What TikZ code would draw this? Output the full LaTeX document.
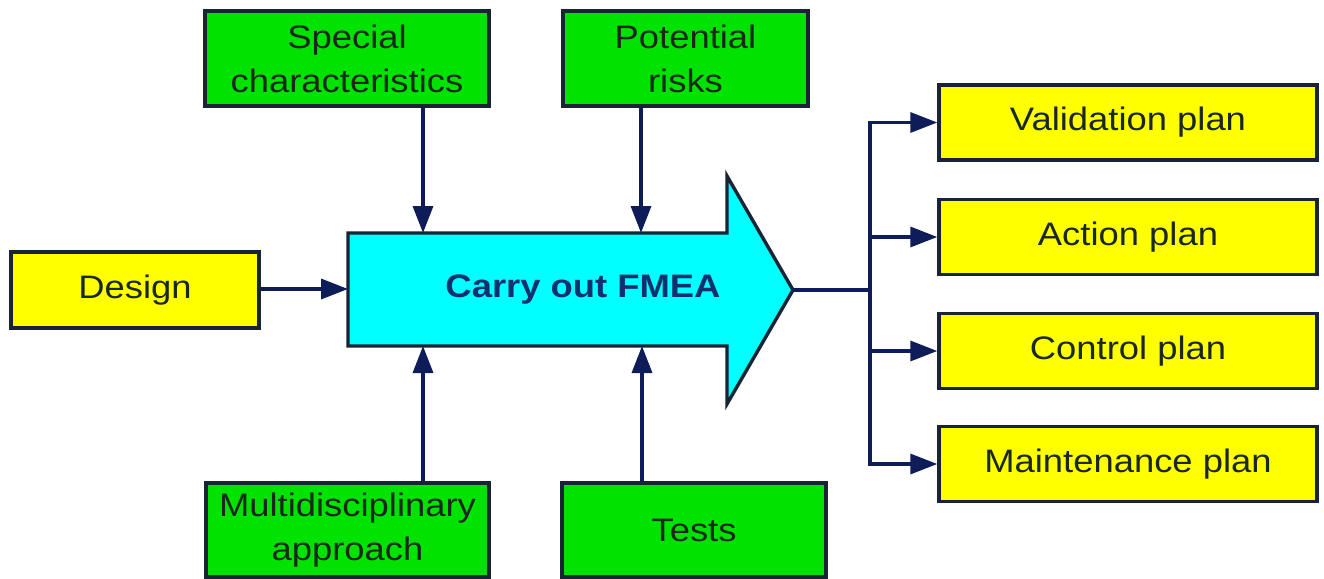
\documentclass[tikz,border=0pt]{standalone}
\usepackage{fontspec}
\setmainfont[FakeStretch=1.12]{Liberation Sans}
\usetikzlibrary{arrows.meta}
\definecolor{boxgreen}{RGB}{0,226,0}
\definecolor{boxyellow}{RGB}{255,255,0}
\definecolor{boxcyan}{RGB}{0,255,255}
\definecolor{edgedark}{RGB}{24,36,52}
\definecolor{linknavy}{RGB}{14,28,90}
\definecolor{textdark}{RGB}{26,40,28}
\definecolor{titlenavy}{RGB}{16,48,110}
\tikzset{
  boxbase/.style={draw=edgedark, line width=3.4pt, rectangle, inner sep=0pt,
    align=center, text=textdark, font=\fontsize{32.5}{44}\selectfont},
  greenbox/.style={boxbase, fill=boxgreen},
  yellowbox/.style={boxbase, fill=boxyellow},
  link/.style={draw=linknavy, line width=3.4pt,
    -{Triangle[length=27pt, width=20pt]}},
  busline/.style={draw=linknavy, line width=3.4pt},
  mainarrow/.style={draw=edgedark, line width=3.4pt, fill=boxcyan, line join=miter}
}
\begin{document}
\begin{tikzpicture}[x=1pt, y=-1pt]
\useasboundingbox (0,0) rectangle (1324,578);

% input boxes
\node[greenbox, minimum width=284pt, minimum height=95pt] (spec) at (347,58.5) {Special\\characteristics};
\node[greenbox, minimum width=245pt, minimum height=95pt] (risk) at (685.5,58.5) {Potential\\risks};
\node[yellowbox, minimum width=248pt, minimum height=76pt] (design) at (135,290) {Design};
\node[greenbox, minimum width=283pt, minimum height=94pt] (multi) at (347.5,530) {Multidisciplinary\\approach};
\node[greenbox, minimum width=264pt, minimum height=94pt] (tests) at (694,530) {Tests};

% the large block arrow
\coordinate (atl) at (348,233);
\coordinate (abl) at (348,346);
\coordinate (tip) at (793,290);
\path[mainarrow] (atl) -- (727,233) -- (727,176) -- (tip) -- (727,404) -- (727,346) -- (abl) -- cycle;
\node[font=\bfseries\fontsize{32.5}{38}\selectfont, text=titlenavy] (fmea) at (583,290) {Carry out FMEA};

% entry points on the block arrow
\coordinate (inspec) at (423,233);
\coordinate (inrisk) at (641,233);
\coordinate (inmulti) at (423,346);
\coordinate (intests) at (642,346);
\coordinate (indesign) at (348,289);

% output boxes
\node[yellowbox, minimum width=378pt, minimum height=75pt] (valid) at (1128,122.5) {Validation plan};
\node[yellowbox, minimum width=378pt, minimum height=75pt] (action) at (1128,237) {Action plan};
\node[yellowbox, minimum width=378pt, minimum height=75pt] (control) at (1128,351) {Control plan};
\node[yellowbox, minimum width=378pt, minimum height=75pt] (maint) at (1128,464) {Maintenance plan};

% inputs
\draw[link] (spec.south -| inspec) -- (inspec);
\draw[link] (risk.south -| inrisk) -- (inrisk);
\draw[link] (design.east |- indesign) -- (indesign);
\draw[link] (multi.north -| inmulti) -- (inmulti);
\draw[link] (tests.north -| intests) -- (intests);

% output bus
\coordinate (bus) at (870,290);
\draw[busline, line width=4.4pt] (tip) -- (bus);
\draw[busline, line cap=rect] (bus |- valid.west) -- (bus |- maint.west);
\draw[link] (bus |- valid.west) -- (valid.west);
\draw[link] (bus |- action.west) -- (action.west);
\draw[link] (bus |- control.west) -- (control.west);
\draw[link] (bus |- maint.west) -- (maint.west);
\end{tikzpicture}
\end{document}
